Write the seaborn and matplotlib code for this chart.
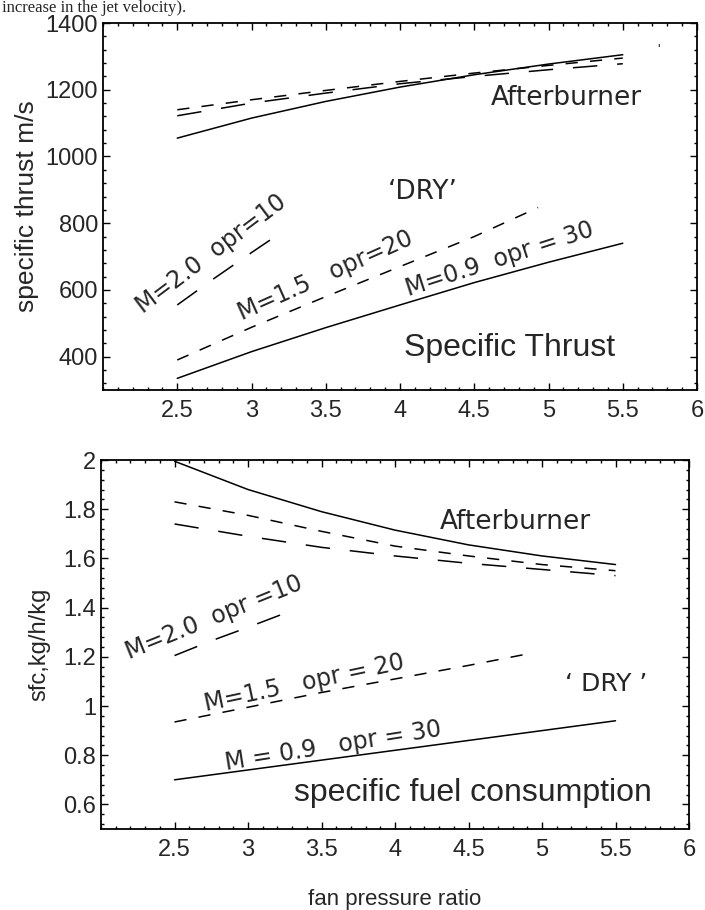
import matplotlib
matplotlib.use("Agg")
import matplotlib.pyplot as plt
from matplotlib.ticker import MultipleLocator, FixedLocator
import seaborn as sns
import pandas as pd

# fan pressure ratio grid
fpr = [2.5, 3.0, 3.5, 4.0, 4.5, 5.0, 5.5]
fpr_m15_dry = [2.5, 3.0, 3.5, 4.0, 4.5, 4.93]
fpr_m20_dry = [2.5, 2.75, 3.0, 3.22]

# specific thrust, m/s
thrust_ab_m09 = [1055, 1115, 1165, 1208, 1245, 1277, 1305]
thrust_ab_m15 = [1140, 1170, 1198, 1225, 1250, 1273, 1295]
thrust_ab_m20 = [1122, 1160, 1190, 1218, 1240, 1260, 1278]
thrust_dry_m09 = [335, 415, 487, 555, 622, 683, 740]
thrust_dry_m15 = [390, 488, 580, 670, 760, 847]
thrust_dry_m20 = [555, 635, 712, 778]

# sfc, kg/h/kg
sfc_ab_m09 = [1.995, 1.88, 1.79, 1.715, 1.655, 1.61, 1.575]
sfc_ab_m15 = [1.83, 1.775, 1.71, 1.65, 1.61, 1.575, 1.55]
sfc_ab_m20 = [1.74, 1.69, 1.645, 1.61, 1.58, 1.555, 1.53]
sfc_dry_m09 = [0.70, 0.74, 0.78, 0.82, 0.86, 0.90, 0.94]
sfc_dry_m15 = [0.935, 0.995, 1.055, 1.11, 1.165, 1.215]
sfc_dry_m20 = [1.205, 1.265, 1.32, 1.37]

thrust_ticks = [400, 600, 800, 1000, 1200, 1400]
sfc_ticks = [0.6, 0.8, 1.0, 1.2, 1.4, 1.6, 1.8, 2.0]
sfc_tick_labels = ["0.6", "0.8", "1", "1.2", "1.4", "1.6", "1.8", "2"]
x_ticks = [2.5, 3, 3.5, 4, 4.5, 5, 5.5, 6]
x_tick_labels = ["2.5", "3", "3.5", "4", "4.5", "5", "5.5", "6"]


def long_df(parts):
    rows = []
    for name, xs, ys in parts:
        for x, y in zip(xs, ys):
            rows.append({"fpr": x, "val": y, "curve": name})
    return pd.DataFrame(rows)


thrust_df = long_df([
    ("ab09", fpr, thrust_ab_m09), ("ab15", fpr, thrust_ab_m15), ("ab20", fpr, thrust_ab_m20),
    ("dry09", fpr, thrust_dry_m09), ("dry15", fpr_m15_dry, thrust_dry_m15),
    ("dry20", fpr_m20_dry, thrust_dry_m20),
])
sfc_df = long_df([
    ("ab09", fpr, sfc_ab_m09), ("ab15", fpr, sfc_ab_m15), ("ab20", fpr, sfc_ab_m20),
    ("dry09", fpr, sfc_dry_m09), ("dry15", fpr_m15_dry, sfc_dry_m15),
    ("dry20", fpr_m20_dry, sfc_dry_m20),
])

short_dash = (8, 8)
long_dash = (16, 13)
dash_map = {"ab09": "", "ab15": short_dash, "ab20": long_dash,
            "dry09": "", "dry15": short_dash, "dry20": long_dash}

sns.set_style("ticks")
plt.rcParams["font.family"] = ["Liberation Sans", "DejaVu Sans"]
note_font = "DejaVu Sans"

fig = plt.figure(figsize=(7.05, 9.10), dpi=100)
ax1 = fig.add_axes([0.1461, 0.5714, 0.8426, 0.4033])
ax2 = fig.add_axes([0.1433, 0.0890, 0.8340, 0.4055])

for ax, df in [(ax1, thrust_df), (ax2, sfc_df)]:
    sns.lineplot(data=df, x="fpr", y="val", style="curve", dashes=dash_map,
                 color="black", linewidth=1.1, legend=False, estimator=None,
                 sort=True, ax=ax)
    ax.set_xlim(2, 6)
    ax.xaxis.set_major_locator(FixedLocator(x_ticks))
    ax.set_xticklabels(x_tick_labels)
    ax.xaxis.set_minor_locator(MultipleLocator(0.1))
    ax.tick_params(which="both", direction="in", top=True, right=True,
                   labelsize=17, width=1.0, color="black")
    ax.tick_params(which="major", length=5)
    ax.tick_params(which="minor", length=2.5)
    ax.tick_params(axis="x", pad=7)
    for s in ax.spines.values():
        s.set_linewidth(1.3)
        s.set_color("black")

# top panel
ax1.set_ylim(300, 1400)
ax1.yaxis.set_major_locator(FixedLocator(thrust_ticks))
ax1.yaxis.set_minor_locator(MultipleLocator(40))
ax1.set_xlabel("")
ax1.set_ylabel("specific thrust m/s", fontsize=19, labelpad=5)

ax1.text(5.12, 1176, "Afterburner", fontsize=19, family=note_font, ha="center", va="center")
ax1.text(4.15, 893, "\u2018DRY\u2019", fontsize=19, family=note_font, ha="center", va="center")
ax1.text(2.73, 707, "M=2.0  opr=10", fontsize=17, family=note_font, rotation=37,
         rotation_mode="anchor", ha="center", va="center")
ax1.text(3.5, 642, "M=1.5   opr=20", fontsize=17, family=note_font, rotation=24,
         rotation_mode="anchor", ha="center", va="center")
ax1.text(4.67, 693, "M=0.9  opr = 30", fontsize=17, family=note_font, rotation=18,
         rotation_mode="anchor", ha="center", va="center")
ax1.text(4.74, 427, "Specific Thrust", fontsize=23, ha="center", va="center")
ax1.text(5.74, 1318, "'", fontsize=10, ha="center", va="center")

# bottom panel
ax2.set_ylim(0.5, 2.0)
ax2.yaxis.set_major_locator(FixedLocator(sfc_ticks))
ax2.set_yticklabels(sfc_tick_labels)
ax2.yaxis.set_minor_locator(MultipleLocator(0.04))
ax2.set_xlabel("fan pressure ratio", fontsize=16, labelpad=20)
ax2.set_ylabel("sfc,kg/h/kg", fontsize=17, labelpad=9)

ax2.text(4.82, 1.75, "Afterburner", fontsize=19, family=note_font, ha="center", va="center")
ax2.text(5.44, 1.09, "\u2018 DRY \u2019", fontsize=18, family=note_font, ha="center", va="center")
ax2.text(2.77, 1.36, "M=2.0  opr =10", fontsize=17, family=note_font, rotation=22,
         rotation_mode="anchor", ha="center", va="center")
ax2.text(3.38, 1.094, "M=1.5   opr = 20", fontsize=17, family=note_font, rotation=12,
         rotation_mode="anchor", ha="center", va="center")
ax2.text(3.58, 0.837, "M = 0.9   opr = 30", fontsize=17, family=note_font, rotation=9,
         rotation_mode="anchor", ha="center", va="center")
ax2.text(4.53, 0.645, "specific fuel consumption", fontsize=23, ha="center", va="center")

# line of the surrounding book text above the figure
fig.text(2 / 705, 1 - 12 / 910, "increase in the jet velocity).", fontsize=12,
         family="Liberation Serif", va="baseline", ha="left")

fig.savefig("out.png", dpi=100)
